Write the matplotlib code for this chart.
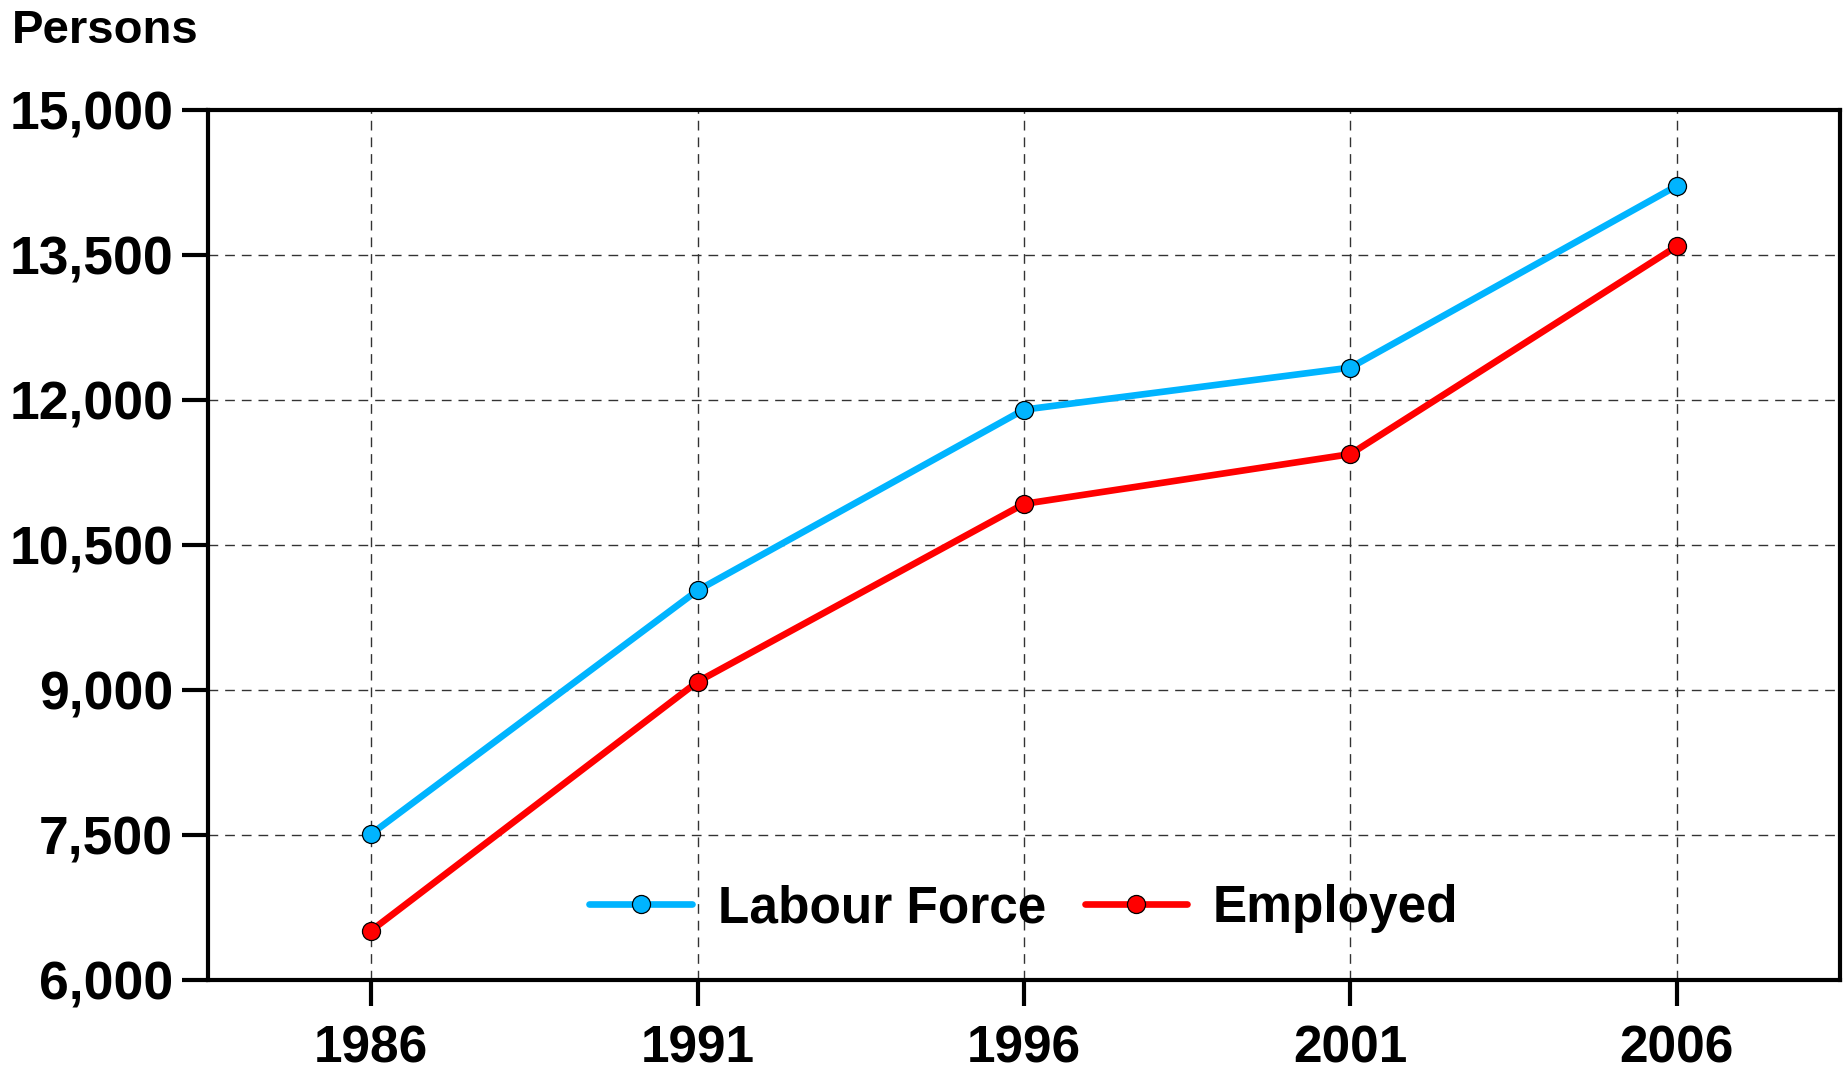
import matplotlib
matplotlib.use("Agg")
import matplotlib.pyplot as plt
from matplotlib.ticker import FuncFormatter

plt.rcParams['font.family'] = ['Liberation Sans', 'DejaVu Sans']
plt.rcParams['font.weight'] = 'bold'

years = [1986, 1991, 1996, 2001, 2006]
labour_force = [7510, 10030, 11900, 12335, 14215]
employed = [6510, 9085, 10925, 11440, 13590]
y_ticks = [6000, 7500, 9000, 10500, 12000, 13500, 15000]
series_names = ["Labour Force", "Employed"]

fig = plt.figure(figsize=(18.47, 10.71), dpi=100)
ax = fig.add_axes([0.1126, 0.085, 0.9962 - 0.1126, 0.8973 - 0.085])

ax.plot(years, labour_force, color='#00B4FF', lw=4.8, marker='o', ms=13,
        mfc='#00B4FF', mec='black', mew=0.9, label=series_names[0], zorder=3,
        solid_capstyle='round')
ax.plot(years, employed, color='#FF0000', lw=4.8, marker='o', ms=13,
        mfc='#FF0000', mec='black', mew=0.9, label=series_names[1], zorder=3,
        solid_capstyle='round')

ax.set_xlim(1983.5, 2008.5)
ax.set_ylim(6000, 15000)
ax.set_xticks(years)
ax.set_yticks(y_ticks)
ax.yaxis.set_major_formatter(FuncFormatter(lambda v, p: f"{int(v):,}"))

ax.grid(True, color='#333333', lw=1.0, linestyle=(0, (7, 5)), zorder=1)
for s in ax.spines.values():
    s.set_linewidth(3.0)
    s.set_color('black')

ax.tick_params(axis='both', direction='out', length=19, width=3.0,
               colors='black')
ax.tick_params(axis='y', pad=6, labelsize=38.5)
ax.tick_params(axis='x', pad=13, labelsize=37)
for lab in ax.get_xticklabels() + ax.get_yticklabels():
    lab.set_fontweight('bold')

leg = ax.legend(loc='center', bbox_to_anchor=(0.5, 0.082), ncol=2, frameon=False,
                fontsize=37, handlelength=2.0, handletextpad=0.5,
                columnspacing=0.75, borderpad=0.0)
for t in leg.get_texts():
    t.set_fontweight('bold')

fig.text(12 / 1847, 1 - 43 / 1071, "Persons", fontsize=34, fontweight='bold',
         ha='left', va='baseline')

fig.savefig("out.png", dpi=100)
